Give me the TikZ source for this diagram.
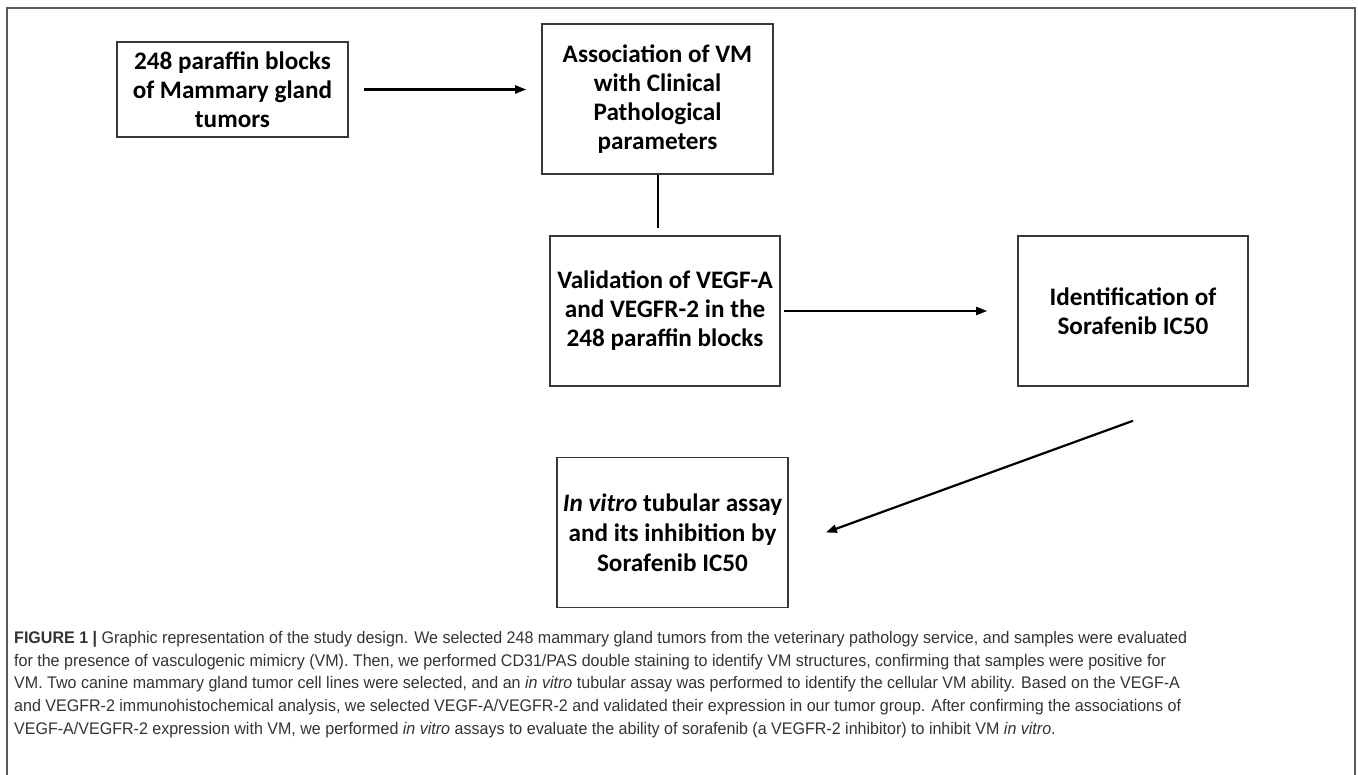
\documentclass[tikz,border=0pt]{standalone}
\usepackage{fontspec}
\usepackage{tikz}
\usetikzlibrary{arrows.meta,positioning,calc}
\newfontfamily\boxfont{Carlito}
\newfontfamily\capfont[FakeStretch=0.955]{Liberation Sans}
\definecolor{boxline}{HTML}{323844}
\definecolor{captext}{HTML}{333333}
\definecolor{framegray}{HTML}{5A5A5A}

\begin{document}
\begin{tikzpicture}[x=1pt,y=-1pt,on grid,
  box/.style={draw=boxline,line width=1.6pt,minimum width=231pt,minimum height=150pt,
    inner sep=0pt,align=center,font=\boxfont\bfseries\fontsize{25.2}{29}\selectfont},
  flow/.style={line width=2.2pt,-{Triangle[length=11pt,width=8pt]}}]
  \useasboundingbox (0,0) rectangle (1358,775);
  % outer frame
  \draw[framegray,line width=1.5pt] (7,775) -- (7,8) -- (1355,8) -- (1355,775);

  \node[box]                (assoc)  at (657.5,99)        {Association of VM\\with Clinical\\Pathological\\parameters};
  \node[box,minimum height=95pt] (blocks) [left=425pt of assoc,yshift=9.5pt] {248 paraffin blocks\\of Mammary gland\\tumors};
  \node[box,minimum width=230pt] (valid) [below=212pt of assoc,xshift=7.5pt] {Validation of VEGF-A\\and VEGFR-2 in the\\248 paraffin blocks};
  \node[box,minimum width=230pt] (ident) [right=468pt of valid] {Identification of\\Sorafenib IC50};
  \node[box,font=\boxfont\bfseries\fontsize{25.2}{30}\selectfont]
    (tubular) [below=221.5pt of valid,xshift=7.5pt] {\textit{In vitro} tubular assay\\and its inhibition by\\Sorafenib IC50};

  \draw[flow,shorten <=15pt,shorten >=15pt] (blocks.east) -- (blocks.east -| assoc.west);
  \draw[line width=2pt,shorten >=7pt] (assoc.south) -- (assoc.south |- valid.north);
  \draw[flow,shorten <=3pt,shorten >=30pt] (valid.east) -- (valid.east -| ident.west);
  \draw[flow] ([yshift=-34pt]ident.south) -- ([xshift=37pt]tubular.east);

  % caption
  \node[anchor=north west,align=left,inner sep=0pt,text=captext,
    font=\capfont\fontsize{16.8}{22.8}\selectfont] (caption) at (14,631)
    {\textbf{FIGURE 1 |} Graphic representation of the study design. We selected 248 mammary gland tumors from the veterinary pathology service, and samples were evaluated\\
     for the presence of vasculogenic mimicry (VM). Then, we performed CD31/PAS double staining to identify VM structures, confirming that samples were positive for\\
     VM. Two canine mammary gland tumor cell lines were selected, and an \textit{in vitro} tubular assay was performed to identify the cellular VM ability. Based on the VEGF-A\\
     and VEGFR-2 immunohistochemical analysis, we selected VEGF-A/VEGFR-2 and validated their expression in our tumor group. After confirming the associations of\\
     VEGF-A/VEGFR-2 expression with VM, we performed \textit{in vitro} assays to evaluate the ability of sorafenib (a VEGFR-2 inhibitor) to inhibit VM \textit{in vitro}.};
\end{tikzpicture}
\end{document}
